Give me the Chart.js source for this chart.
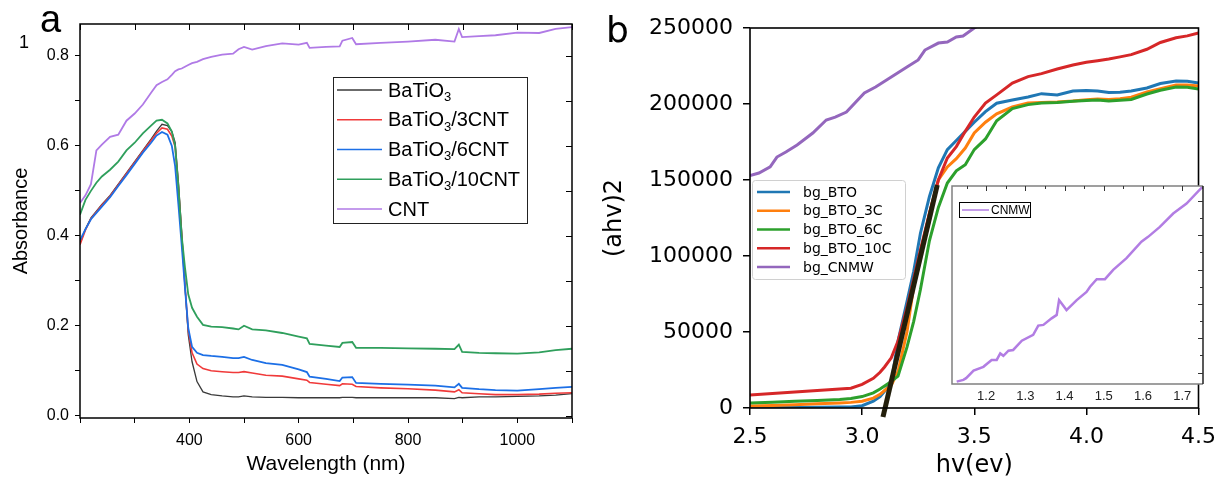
<!DOCTYPE html>
<html>
<head>
<meta charset="utf-8">
<title>Absorbance and Tauc plots</title>
<script src="https://cdn.jsdelivr.net/npm/chart.js@4.4.1/dist/chart.umd.min.js"></script>
<style>
  html, body { margin: 0; padding: 0; background: #fff; }
  #page { position: relative; width: 1225px; height: 478px; overflow: hidden; background: #fff; }
  canvas { position: absolute; }
  #chartA { left: 0; top: 0; }
  #chartB { left: 600px; top: 0; }
  #inset { left: 946px; top: 180px; }
</style>
</head>
<body>
<div id="page">
  <canvas id="chartA" width="600" height="478"></canvas>
  <canvas id="chartB" width="625" height="478"></canvas>
  <canvas id="inset" width="264" height="230"></canvas>
</div>
<script>
// ---- panel a : absorbance vs wavelength ----
const wavelength = [200, 210, 220, 230, 240, 255, 270, 285, 300, 315,
  330, 340, 350, 360, 368, 374, 380, 386, 392, 398,
  405, 414, 425, 440, 460, 480, 490, 500, 515, 540,
  570, 600, 615, 620, 650, 675, 680, 698, 705, 750,
  800, 850, 885, 893, 899, 930, 960, 1000, 1040, 1070,
  1100];
const absBaTiO3 = [0.384, 0.415, 0.44, 0.455, 0.47, 0.49, 0.515, 0.54, 0.565, 0.59,
  0.615, 0.633, 0.648, 0.645, 0.632, 0.608, 0.52, 0.41, 0.29, 0.18,
  0.12, 0.076, 0.053, 0.047, 0.044, 0.042, 0.042, 0.044, 0.042, 0.041,
  0.041, 0.04, 0.04, 0.04, 0.04, 0.04, 0.041, 0.041, 0.04, 0.04,
  0.04, 0.04, 0.038, 0.041, 0.04, 0.042, 0.042, 0.043, 0.044, 0.046,
  0.049];
const abs3CNT = [0.38, 0.413, 0.438, 0.453, 0.468, 0.488, 0.513, 0.538, 0.563, 0.588,
  0.612, 0.628, 0.64, 0.637, 0.622, 0.598, 0.51, 0.40, 0.29, 0.19,
  0.14, 0.115, 0.105, 0.1, 0.098, 0.096, 0.096, 0.098, 0.095, 0.09,
  0.088, 0.082, 0.079, 0.074, 0.07, 0.067, 0.071, 0.07, 0.065, 0.062,
  0.06, 0.057, 0.053, 0.058, 0.051, 0.049, 0.047, 0.047, 0.048, 0.05,
  0.051];
const abs6CNT = [0.39, 0.415, 0.437, 0.451, 0.465, 0.486, 0.511, 0.535, 0.56, 0.585,
  0.607, 0.623, 0.631, 0.625, 0.6, 0.555, 0.47, 0.38, 0.285, 0.195,
  0.153, 0.14, 0.135, 0.133, 0.131, 0.128, 0.128, 0.131, 0.124, 0.117,
  0.113, 0.103, 0.097, 0.087, 0.082, 0.077, 0.085, 0.086, 0.073, 0.071,
  0.069, 0.067, 0.063, 0.071, 0.062, 0.059, 0.057, 0.056, 0.059, 0.062,
  0.064];
const abs10CNT = [0.447, 0.48, 0.5, 0.518, 0.532, 0.547, 0.565, 0.59, 0.607, 0.628,
  0.645, 0.656, 0.658, 0.65, 0.632, 0.6, 0.51, 0.40, 0.33, 0.27,
  0.24, 0.22, 0.202, 0.198, 0.197, 0.194, 0.192, 0.2, 0.192, 0.19,
  0.184, 0.176, 0.172, 0.16, 0.156, 0.153, 0.162, 0.164, 0.151, 0.151,
  0.15, 0.149, 0.148, 0.158, 0.142, 0.14, 0.139, 0.138, 0.141, 0.146,
  0.149];
const absCNT = [0.473, 0.49, 0.515, 0.59, 0.603, 0.62, 0.625, 0.656, 0.672, 0.692,
  0.718, 0.735, 0.742, 0.748, 0.758, 0.766, 0.77, 0.772, 0.776, 0.78,
  0.784, 0.787, 0.793, 0.798, 0.803, 0.805, 0.815, 0.82, 0.814, 0.822,
  0.828, 0.825, 0.829, 0.818, 0.82, 0.821, 0.834, 0.84, 0.826, 0.829,
  0.832, 0.836, 0.832, 0.86, 0.842, 0.844, 0.846, 0.852, 0.851, 0.86,
  0.864];
const labelsA = ['BaTiO3', 'BaTiO3/3CNT', 'BaTiO3/6CNT', 'BaTiO3/10CNT', 'CNT'];
const seriesA = [absBaTiO3, abs3CNT, abs6CNT, abs10CNT, absCNT];
const colorsA = ['#3a3a3a', '#f03a3a', '#1c6fe6', '#2f9f5c', '#b07ae6'];
const widthsA = [1.3, 1.6, 1.8, 1.8, 1.8];

// ---- panel b : Tauc plot ----
const energy = [2.5, 2.6, 2.7, 2.8, 2.9, 2.95, 3.0, 3.05, 3.08, 3.1,
  3.13, 3.16, 3.2, 3.23, 3.26, 3.3, 3.34, 3.38, 3.42, 3.46,
  3.5, 3.55, 3.6, 3.67, 3.74, 3.8, 3.87, 3.94, 4.0, 4.05,
  4.1, 4.15, 4.2, 4.27, 4.33, 4.4, 4.45, 4.5];
const bgBTO = [300, 300, 400, 500, 600, 700, 1500, 4500, 7500, 11000,
  17000, 44000, 70000, 90000, 115000, 139000, 158000, 170000, 176000, 182000,
  188000, 195000, 200500, 202600, 204600, 206800, 206000, 208600, 208800, 208600,
  207500, 207800, 208600, 210500, 213500, 215100, 215000, 213800];
const bgBTO3C = [1300, 1700, 2200, 2800, 3300, 3700, 4500, 6500, 9000, 11500,
  15000, 24000, 50000, 80000, 100000, 128000, 150000, 158600, 164000, 171000,
  181000, 188000, 193500, 198000, 200600, 201000, 201300, 202000, 202800, 203300,
  203000, 203500, 204500, 207900, 210000, 212500, 212500, 211800];
const bgBTO6C = [3300, 3800, 4400, 5000, 5600, 6200, 7500, 10000, 12500, 14500,
  17500, 21000, 40000, 57000, 78000, 110000, 132000, 148000, 156000, 160000,
  170000, 177000, 189000, 197000, 199600, 200600, 201000, 201800, 202300, 202600,
  202000, 202500, 203000, 206600, 209000, 211200, 211000, 209900];
const bgBTO10C = [8600, 9500, 10500, 11500, 12500, 13000, 15500, 19500, 23500, 27000,
  33000, 44000, 66000, 85000, 104000, 128000, 150000, 164500, 172000, 182000,
  191400, 200600, 206000, 213800, 218000, 220000, 223000, 225700, 227400, 228500,
  229600, 231000, 232500, 236000, 240500, 243600, 244800, 246700];
const cnmwEnergy = [2.5, 2.54, 2.59, 2.62, 2.66, 2.71, 2.78, 2.84, 2.88, 2.93,
  3.01, 3.06, 3.13, 3.2, 3.25, 3.28, 3.34, 3.38, 3.42, 3.45, 3.5, 3.53];
const bgCNMW = [153000, 154600, 158600, 165100, 168400, 173000, 180900, 189500, 191400, 194700,
  207200, 211200, 217800, 224300, 229000, 235500, 240100, 240800, 244100, 244700, 250000, 252500];
const fitEnergy = [3.093, 3.335];
const fitValue = [-5900, 146700];
const labelsB = ['bg_BTO', 'bg_BTO_3C', 'bg_BTO_6C', 'bg_BTO_10C', 'bg_CNMW'];
const colorsB = ['#1f77b4', '#ff7f0e', '#2ca02c', '#d62728', '#9467bd'];

// ---- inset : CNMW ----
const insetEnergy = [1.125, 1.142, 1.149, 1.168, 1.193, 1.214, 1.227, 1.236, 1.244, 1.257,
  1.269, 1.291, 1.32, 1.333, 1.346, 1.367, 1.38, 1.386, 1.405, 1.431,
  1.456, 1.465, 1.482, 1.503, 1.524, 1.558, 1.596, 1.613, 1.643, 1.677,
  1.711, 1.751];
const insetSignal = [-2.6, -2.1, -1.6, 0.6, 1.7, 3.7, 3.7, 5.6, 4.9, 6.4,
  6.6, 9.3, 11, 13.7, 13.9, 15.8, 16.8, 21.1, 18.2, 21.1,
  23.5, 25, 27.2, 27.2, 29.9, 33.3, 38.1, 39.5, 42.4, 46.3,
  49.2, 54];

const ARIAL = "'Liberation Sans', Arial, sans-serif";
const DEJAVU = "'DejaVu Sans', sans-serif";

function pts(xs, ys) {
  return xs.map((x, i) => ({ x, y: ys[i] }));
}

function lineSet(label, xs, ys, color, width, extra) {
  return Object.assign({
    label, data: pts(xs, ys), borderColor: color, backgroundColor: color,
    borderWidth: width, pointRadius: 0, fill: false, tension: 0
  }, extra || {});
}

// label like "BaTiO3/3CNT" -> draws the 3 after TiO as a subscript
function drawSubLabel(ctx, text, x, y, size) {
  const m = text.match(/^(BaTiO)3(.*)$/);
  ctx.textBaseline = 'middle';
  ctx.textAlign = 'left';
  ctx.font = size + 'px ' + ARIAL;
  if (!m) { ctx.fillText(text, x, y); return; }
  ctx.fillText(m[1], x, y);
  let cx = x + ctx.measureText(m[1]).width;
  ctx.font = Math.round(size * 0.65) + 'px ' + ARIAL;
  ctx.fillText('3', cx, y + size * 0.32);
  cx += ctx.measureText('3').width;
  ctx.font = size + 'px ' + ARIAL;
  ctx.fillText(m[2], cx, y);
}

const frameA = {
  id: 'frameA',
  afterDraw(chart) {
    const { ctx, chartArea: a, scales: { x, y } } = chart;
    ctx.save();
    ctx.strokeStyle = '#000';
    ctx.lineWidth = 1.5;
    ctx.strokeRect(a.left, a.top, a.right - a.left, a.bottom - a.top);
    // inward ticks on top and right
    ctx.lineWidth = 1;
    ctx.beginPath();
    x.ticks.forEach(t => {
      const px = Math.round(x.getPixelForValue(t.value)) + 0.5;
      ctx.moveTo(px, a.top); ctx.lineTo(px, a.top + 6);
    });
    y.ticks.forEach(t => {
      const py = Math.round(y.getPixelForValue(t.value)) + 0.5;
      ctx.moveTo(a.right, py); ctx.lineTo(a.right - 6, py);
    });
    ctx.stroke();

    // legend box
    ctx.fillStyle = '#fff';
    ctx.fillRect(333, 77, 194, 146);
    ctx.strokeStyle = '#222';
    ctx.lineWidth = 1;
    ctx.strokeRect(333.5, 77.5, 194, 146);
    labelsA.forEach((lab, i) => {
      const ly = 90 + i * 29.75;
      ctx.strokeStyle = colorsA[i];
      ctx.lineWidth = 1.6;
      ctx.beginPath(); ctx.moveTo(337, ly); ctx.lineTo(382, ly); ctx.stroke();
      ctx.fillStyle = '#000';
      drawSubLabel(ctx, lab, 388, ly + 1, 20);
    });

    // panel letter and stray "1"
    ctx.fillStyle = '#000';
    ctx.textBaseline = 'alphabetic';
    ctx.textAlign = 'left';
    ctx.font = '38px ' + ARIAL;
    ctx.fillText('a', 40, 32);
    ctx.font = '18px ' + ARIAL;
    ctx.fillText('1', 19, 48);
    ctx.restore();
  }
};

const frameB = {
  id: 'frameB',
  afterDraw(chart) {
    const { ctx, chartArea: a } = chart;
    ctx.save();
    ctx.strokeStyle = '#000';
    ctx.lineWidth = 1.6;
    ctx.strokeRect(a.left, a.top, a.right - a.left, a.bottom - a.top);

    // matplotlib style legend
    ctx.fillStyle = 'rgba(255,255,255,0.9)';
    ctx.strokeStyle = '#d0d0d0';
    ctx.lineWidth = 1;
    ctx.beginPath();
    ctx.roundRect(152.5, 180.5, 153, 99, 3);
    ctx.fill(); ctx.stroke();
    labelsB.forEach((lab, i) => {
      const ly = 192 + i * 18.75;
      ctx.strokeStyle = colorsB[i];
      ctx.lineWidth = 2.5;
      ctx.beginPath(); ctx.moveTo(157, ly); ctx.lineTo(190, ly); ctx.stroke();
      ctx.fillStyle = '#000';
      ctx.font = '14px ' + DEJAVU;
      ctx.textBaseline = 'middle';
      ctx.textAlign = 'left';
      ctx.fillText(lab, 203, ly + 1);
    });

    ctx.fillStyle = '#000';
    ctx.textBaseline = 'alphabetic';
    ctx.font = '36px ' + DEJAVU;
    ctx.fillText('b', 6, 42);
    ctx.restore();
  }
};

const frameInset = {
  id: 'frameInset',
  beforeDraw(chart) {
    const { ctx, chartArea: a } = chart;
    ctx.save();
    ctx.fillStyle = '#fff';
    ctx.fillRect(a.left, a.top, a.right - a.left, a.bottom - a.top);
    ctx.restore();
  },
  afterDraw(chart) {
    const { ctx, chartArea: a, scales: { x, y } } = chart;
    ctx.save();
    ctx.lineWidth = 1.5;
    ctx.strokeStyle = '#808080';
    ctx.beginPath();
    ctx.moveTo(a.right, a.top); ctx.lineTo(a.left, a.top);
    ctx.lineTo(a.left, a.bottom); ctx.lineTo(a.right, a.bottom);
    ctx.stroke();
    ctx.strokeStyle = '#222';
    ctx.beginPath(); ctx.moveTo(a.right, a.top); ctx.lineTo(a.right, a.bottom); ctx.stroke();

    ctx.lineWidth = 1;
    ctx.strokeStyle = '#333';
    ctx.beginPath();
    x.ticks.forEach(t => {
      const major = Math.round(t.value * 100) % 10 === 0;
      const px = Math.round(x.getPixelForValue(t.value)) + 0.5;
      ctx.moveTo(px, a.top); ctx.lineTo(px, a.top + (major ? 5 : 3));
    });
    for (let v = 0; v <= 50; v += 5) {
      const py = Math.round(y.getPixelForValue(v)) + 0.5;
      ctx.moveTo(a.right, py); ctx.lineTo(a.right - (v % 10 === 0 ? 5 : 3), py);
    }
    ctx.stroke();

    // legend
    ctx.fillStyle = '#fff';
    ctx.fillRect(13, 22, 71, 15);
    ctx.strokeStyle = '#000';
    ctx.strokeRect(13.5, 22.5, 71, 15);
    ctx.strokeStyle = '#b27de3';
    ctx.lineWidth = 1.5;
    ctx.beginPath(); ctx.moveTo(16, 30); ctx.lineTo(43, 30); ctx.stroke();
    ctx.fillStyle = '#000';
    ctx.font = '12px ' + ARIAL;
    ctx.textBaseline = 'middle';
    ctx.textAlign = 'left';
    ctx.fillText('CNMW', 45, 30.5);
    ctx.restore();
  }
};

// panel a
new Chart(document.getElementById('chartA'), {
  type: 'line',
  data: {
    datasets: seriesA.map((s, i) => lineSet(labelsA[i], wavelength, s, colorsA[i], widthsA[i])).reverse()
  },
  options: {
    responsive: false,
    animation: false,
    events: [],
    layout: { padding: { top: 24, right: 28, left: 0, bottom: 0 } },
    plugins: { legend: { display: false }, tooltip: { enabled: false } },
    scales: {
      x: {
        type: 'linear', min: 200, max: 1100,
        afterFit: s => { s.height = 60; },
        border: { display: false },
        grid: { drawOnChartArea: false, drawTicks: true, tickLength: 5, color: '#000', lineWidth: 1 },
        ticks: {
          stepSize: 100, includeBounds: false, autoSkip: false, maxRotation: 0, padding: 8,
          color: '#000', font: { family: ARIAL, size: 16 },
          callback: v => (v >= 400 && v <= 1000 && v % 200 === 0) ? String(v) : ''
        },
        title: { display: true, text: 'Wavelength (nm)', color: '#000', font: { family: ARIAL, size: 21 }, padding: { top: 0, bottom: 1 } }
      },
      y: {
        min: -0.005, max: 0.871,
        afterFit: s => { s.width = 80; },
        border: { display: false },
        grid: { drawOnChartArea: false, drawTicks: true, tickLength: 5, color: '#000', lineWidth: 1 },
        ticks: {
          stepSize: 0.1, includeBounds: false, autoSkip: false, padding: 6,
          color: '#000', font: { family: ARIAL, size: 16 },
          callback: v => (Math.round(v * 10) % 2 === 0) ? v.toFixed(1) : ''
        },
        title: { display: true, text: 'Absorbance', color: '#000', font: { family: ARIAL, size: 20 }, padding: { top: 9, bottom: 0 } }
      }
    }
  },
  plugins: [frameA]
});

// panel b
new Chart(document.getElementById('chartB'), {
  type: 'line',
  data: {
    datasets: [
      lineSet('fit', fitEnergy, fitValue, '#231f0c', 5, { clip: false }),
      lineSet(labelsB[4], cnmwEnergy, bgCNMW, colorsB[4], 3),
      lineSet(labelsB[3], energy, bgBTO10C, colorsB[3], 3),
      lineSet(labelsB[2], energy, bgBTO6C, colorsB[2], 3),
      lineSet(labelsB[1], energy, bgBTO3C, colorsB[1], 3),
      lineSet(labelsB[0], energy, bgBTO, colorsB[0], 3)
    ]
  },
  options: {
    responsive: false,
    animation: false,
    events: [],
    layout: { padding: { top: 28, right: 20, left: 0, bottom: 0 } },
    plugins: { legend: { display: false }, tooltip: { enabled: false } },
    scales: {
      x: {
        type: 'linear', min: 2.5, max: 4.5,
        afterFit: s => { s.height = 70; },
        border: { display: false },
        grid: { drawOnChartArea: false, drawTicks: true, tickLength: 7, color: '#000', lineWidth: 1.5 },
        ticks: {
          stepSize: 0.5, autoSkip: false, maxRotation: 0, padding: 9,
          color: '#000', font: { family: DEJAVU, size: 22 },
          callback: v => v.toFixed(1)
        },
        title: { display: true, text: 'hv(ev)', color: '#000', font: { family: DEJAVU, size: 24, lineHeight: 1 }, padding: { top: 0, bottom: 0 } }
      },
      y: {
        min: 0, max: 250000,
        afterFit: s => { s.width = 150; },
        border: { display: false },
        grid: { drawOnChartArea: false, drawTicks: true, tickLength: 7, color: '#000', lineWidth: 1.5 },
        ticks: {
          stepSize: 50000, autoSkip: false, padding: 10,
          color: '#000', font: { family: DEJAVU, size: 22 },
          callback: v => String(v)
        },
        title: { display: true, text: '(ahv)2', color: '#000', font: { family: DEJAVU, size: 24 }, padding: { top: 0, bottom: 0 } }
      }
    }
  },
  plugins: [frameB]
});

// inset
new Chart(document.getElementById('inset'), {
  type: 'line',
  data: {
    datasets: [lineSet('CNMW', insetEnergy, insetSignal, '#b27de3', 2.5)]
  },
  options: {
    responsive: false,
    animation: false,
    events: [],
    layout: { padding: { top: 6, right: 7, left: 6, bottom: 0 } },
    plugins: { legend: { display: false }, tooltip: { enabled: false } },
    scales: {
      x: {
        type: 'linear', min: 1.113, max: 1.753,
        afterFit: s => { s.height = 26; },
        border: { display: false },
        grid: { display: false, drawTicks: false },
        ticks: {
          stepSize: 0.05, includeBounds: false, autoSkip: false, maxRotation: 0, padding: 5,
          color: '#222', font: { family: ARIAL, size: 13 },
          callback: v => { const r = Math.round(v * 100); return r % 10 === 0 ? (r / 100).toFixed(1) : ''; }
        }
      },
      y: { display: false, min: -3.3, max: 54.3 }
    }
  },
  plugins: [frameInset]
});
</script>
</body>
</html>
